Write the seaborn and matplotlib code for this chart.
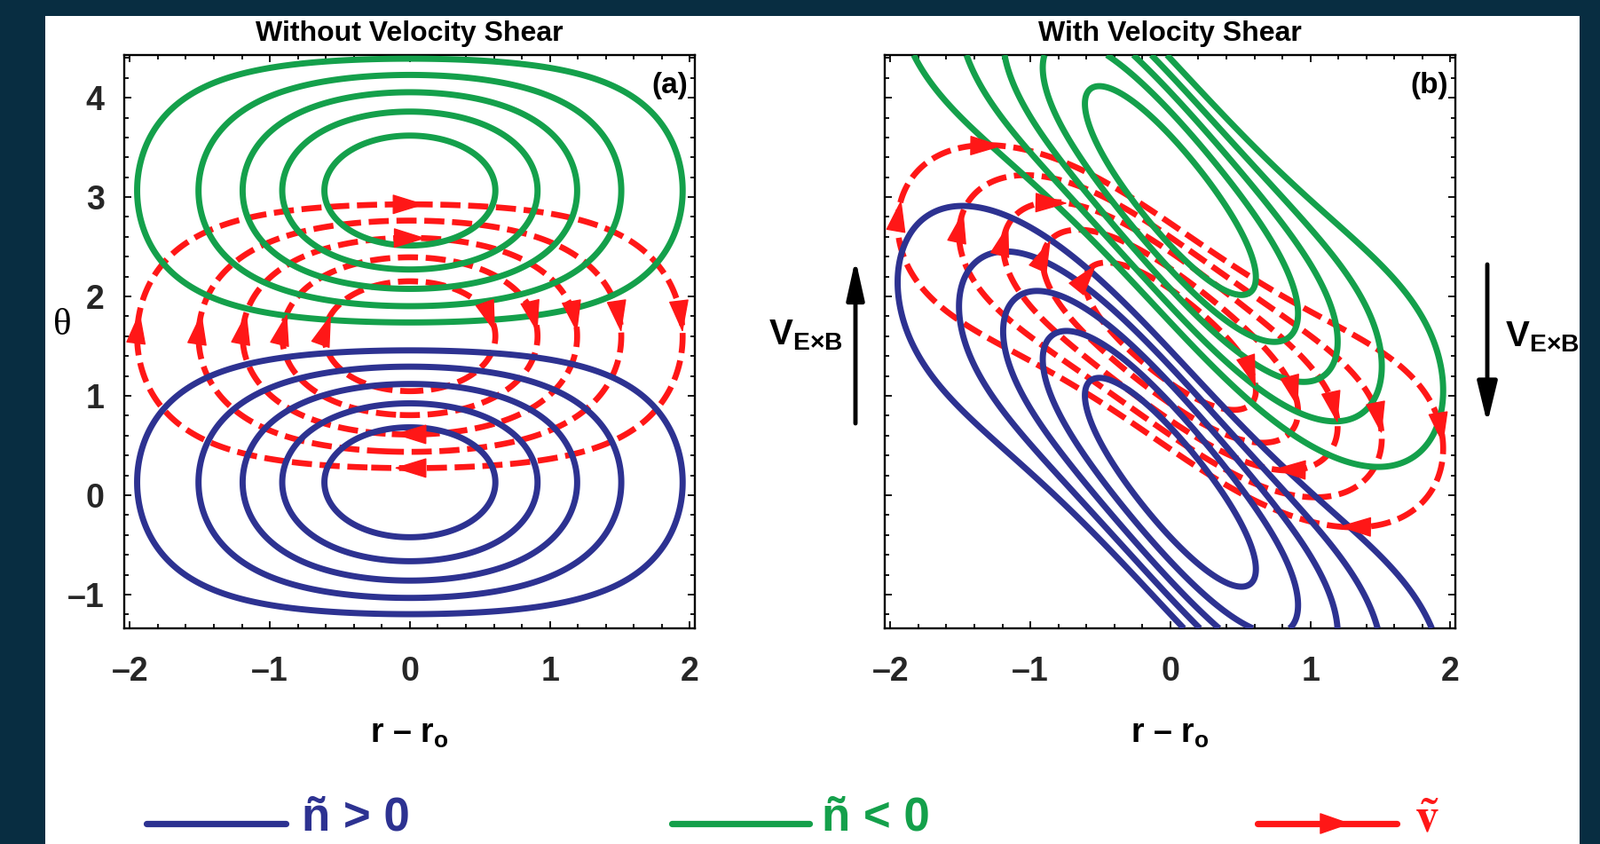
import numpy as np
import matplotlib
matplotlib.use("Agg")
import matplotlib.pyplot as plt
from matplotlib.lines import Line2D
from matplotlib.patches import Rectangle, FancyArrowPatch
from matplotlib.ticker import MultipleLocator
import seaborn as sns

# ---- values ----
panel_titles = ["Without Velocity Shear", "With Velocity Shear"]
panel_tags = ["(a)", "(b)"]
x_ticks = [-2, -1, 0, 1, 2]
x_tick_labels = ["–2", "–1", "0", "1", "2"]
theta_ticks = [-1, 0, 1, 2, 3, 4]
theta_tick_labels = ["–1", "0", "1", "2", "3", "4"]
x_limits = [-2.04, 2.035]
theta_limits = [-1.34, 4.43]

contour_levels = [0.15, 0.32, 0.49, 0.66, 0.83]   # |n| and phi contour levels
envelope_width2 = 2.0        # radial envelope exp(-x^2 / w2)
n_wavenumber = 1.07
theta_pos_lobe = 0.13        # centre of the n > 0 lobe at x = 0
# lobe displacement by the flow: -amp * tanh(x / length)
shift_amp_n = [0.0, 2.4]
shift_len_n = [1.0, 1.6]
phi_wavenumber = [1.07, 1.25]
phi_centre = [1.60, 1.60]
shift_amp_phi = [0.0, 1.25]
shift_len_phi = [1.0, 1.3]
tb_arrow_rings = [[0, 2], [0, 2]]   # rings with arrows at top / bottom

legend_labels = ["ñ > 0", "ñ < 0", r"$\tilde{\mathrm{v}}$"]

blue = "#2d3291"
green = "#14a04b"
red = "#ff1717"
navy = "#082d41"

W, H = 1803, 951

sns.set_theme(style="white")
sans = ["Liberation Sans Narrow", "Liberation Sans", "DejaVu Sans"]
plt.rcParams["font.family"] = sans
plt.rcParams["font.weight"] = "bold"
plt.rcParams["mathtext.fontset"] = "custom"
plt.rcParams["mathtext.rm"] = "Liberation Sans:bold"
plt.rcParams["mathtext.it"] = "Liberation Sans:bold"
plt.rcParams["mathtext.bf"] = "Liberation Sans:bold"


def fx(px):
    return px / W


def fy(py):
    return 1 - py / H


def phase(x, t, k, centre, amp, length):
    return k * (t - centre + amp * np.tanh(x / length))


xs = np.linspace(x_limits[0], x_limits[1], 500)
ts = np.linspace(theta_limits[0], theta_limits[1], 600)
X, T = np.meshgrid(xs, ts)
env = np.exp(-X ** 2 / envelope_width2)

arrow_style = "-|>,head_length=1.2,head_width=0.37"


def add_flow_arrows(ax, cs, rings):
    for i, level_segs in enumerate(cs.allsegs):
        for seg in level_segs:
            if len(seg) < 60 or np.hypot(*(seg[0] - seg[-1])) > 0.05:
                continue
            area = 0.5 * np.sum(seg[:-1, 0] * seg[1:, 1] - seg[1:, 0] * seg[:-1, 1])
            if area > 0:
                seg = seg[::-1]          # clockwise flow
            n = len(seg) - 1
            spans = [(np.argmin(seg[:, 0]), 4, 28), (np.argmax(seg[:, 0]), -28, -4)]
            if i in rings:
                spans += [(np.argmax(seg[:, 1]), -10, 14), (np.argmin(seg[:, 1]), -10, 14)]
            for j, a, b in spans:
                tail = seg[(j + a) % n]
                tip = seg[(j + b) % n]
                ax.annotate("", xy=tip, xytext=tail, zorder=6,
                            arrowprops=dict(arrowstyle=arrow_style, mutation_scale=20,
                                            color=red, lw=1, shrinkA=0, shrinkB=0))


fig = plt.figure(figsize=(W / 100, H / 100), dpi=100, facecolor=navy)
fig.patches.append(Rectangle((fx(51), 0), fx(1780) - fx(51), fy(18), transform=fig.transFigure,
                             facecolor="white", edgecolor="none", zorder=-5))

lefts = [140, 997]
for p in range(2):
    ax = fig.add_axes([fx(lefts[p]), fy(708), 643 / W, 646 / H])
    ax.set_facecolor("white")

    psi_n = phase(X, T, n_wavenumber, theta_pos_lobe, shift_amp_n[p], shift_len_n[p])
    dens = env * np.cos(psi_n)
    dens[(psi_n < -np.pi / 2) | (psi_n > 1.5 * np.pi)] = 0.0

    psi_p = phase(X, T, phi_wavenumber[p], phi_centre[p], shift_amp_phi[p], shift_len_phi[p])
    phi = env * np.cos(psi_p)
    phi[np.abs(psi_p) > np.pi / 2] = 0.0

    cs_phi = ax.contour(X, T, phi, levels=contour_levels, colors=red, linewidths=4.8,
                        linestyles=[(0, (3.4, 1.3))], zorder=2)
    ax.contour(X, T, dens, levels=contour_levels, colors=blue, linewidths=5,
               linestyles="solid", zorder=3)
    ax.contour(X, T, dens, levels=[-v for v in contour_levels[::-1]], colors=green,
               linewidths=5, linestyles="solid", zorder=3)
    add_flow_arrows(ax, cs_phi, tb_arrow_rings[p])

    ax.set_xlim(x_limits)
    ax.set_ylim(theta_limits)
    ax.set_xticks(x_ticks)
    ax.set_xticklabels(x_tick_labels)
    ax.set_yticks(theta_ticks)
    ax.set_yticklabels(theta_tick_labels if p == 0 else [])
    ax.xaxis.set_minor_locator(MultipleLocator(0.2))
    ax.yaxis.set_minor_locator(MultipleLocator(0.2))
    ax.tick_params(which="both", direction="in", top=True, right=True, left=True, bottom=True,
                   width=1.3, color="black")
    ax.tick_params(which="major", length=6)
    ax.tick_params(which="minor", length=3.5)
    ax.tick_params(axis="x", which="major", labelsize=27, pad=22)
    ax.tick_params(axis="y", which="major", labelsize=27, pad=16)
    for lab in ax.get_xticklabels() + ax.get_yticklabels():
        lab.set_fontweight("bold")
    for s in ax.spines.values():
        s.set_linewidth(1.7)
        s.set_color("black")
        s.set_visible(True)
    ax.text(0.988, 0.946, panel_tags[p], transform=ax.transAxes, ha="right", va="center",
            fontsize=24, fontweight="bold", color="black", zorder=7)

    cx = lefts[p] + 643 / 2
    fig.text(fx(cx), fy(46), panel_titles[p], ha="center", va="baseline",
             fontsize=23, fontweight="bold", color="black")
    fig.text(fx(cx), fy(837), "r – r$_\\mathrm{o}$", ha="center", va="baseline",
             fontsize=27, fontweight="bold", color="black")

fig.text(fx(70), fy(367), "θ", ha="center", va="center", fontsize=31,
         family=["Liberation Serif", "DejaVu Serif"], fontweight="normal", color="black")

# V_ExB labels and arrows
fig.text(fx(866), fy(388), "V$_{\\mathrm{E×B}}$", ha="left", va="baseline",
         fontsize=29, fontweight="bold", color="black")
fig.text(fx(1696), fy(390), "V$_{\\mathrm{E×B}}$", ha="left", va="baseline",
         fontsize=29, fontweight="bold", color="black")
fig.patches.append(FancyArrowPatch((fx(964), fy(477)), (fx(964), fy(292)), transform=fig.transFigure,
                                   arrowstyle="-|>,head_length=1.35,head_width=0.3",
                                   mutation_scale=20, lw=3.5, color="black", shrinkA=0, shrinkB=0))
fig.patches.append(FancyArrowPatch((fx(1676), fy(298)), (fx(1676), fy(477)), transform=fig.transFigure,
                                   arrowstyle="-|>,head_length=1.4,head_width=0.34",
                                   mutation_scale=20, lw=3.5, color="black", shrinkA=0, shrinkB=0))

# legend row
fig.add_artist(Line2D([fx(165), fx(322)], [fy(928), fy(928)], color=blue, lw=5.2))
fig.text(fx(340), fy(936), legend_labels[0], ha="left", va="baseline", fontsize=38,
         fontweight="bold", color=blue)
fig.add_artist(Line2D([fx(757), fx(912)], [fy(928), fy(928)], color=green, lw=5.2))
fig.text(fx(926), fy(936), legend_labels[1], ha="left", va="baseline", fontsize=38,
         fontweight="bold", color=green)
fig.add_artist(Line2D([fx(1417), fx(1574)], [fy(928), fy(928)], color=red, lw=5.2))
fig.patches.append(FancyArrowPatch((fx(1490), fy(928)), (fx(1522), fy(928)), transform=fig.transFigure,
                                   arrowstyle="-|>,head_length=1.15,head_width=0.4",
                                   mutation_scale=20, lw=1, color=red, shrinkA=0, shrinkB=0))
fig.text(fx(1594), fy(936), legend_labels[2], ha="left", va="baseline", fontsize=38,
         color=red, math_fontfamily="stix")

fig.savefig("out.png", dpi=100, facecolor=navy)
